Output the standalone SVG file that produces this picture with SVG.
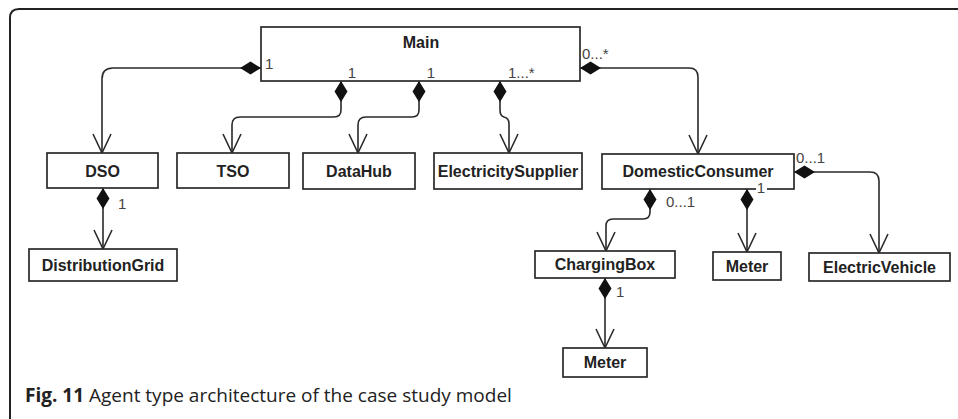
<svg xmlns="http://www.w3.org/2000/svg" width="958" height="419" viewBox="0 0 958 419">
<defs>
<marker id="dia" markerUnits="userSpaceOnUse" markerWidth="24" markerHeight="14" refX="0" refY="6.5" orient="auto" viewBox="0 0 24 14" overflow="visible">
<path d="M0,6.5 L10.5,0 L21,6.5 L10.5,13 Z" fill="#111"/>
</marker>
<marker id="arr" markerUnits="userSpaceOnUse" markerWidth="22" markerHeight="22" refX="0" refY="0" orient="auto" viewBox="-21 -11 22 22" overflow="visible">
<path d="M-19,-9 L0,0 L-19,9" fill="none" stroke="#2a2a2a" stroke-width="1.6"/>
</marker>
</defs>
<style>
.box{fill:#fff;stroke:#2a2a2a;stroke-width:1.7}
.name{font-family:"Liberation Sans",Arial,sans-serif;font-weight:bold;font-size:16px;fill:#222;text-anchor:middle}
.lab{font-family:"Liberation Sans",Arial,sans-serif;font-size:15px;fill:#444}
.con{fill:none;stroke:#2a2a2a;stroke-width:1.6;marker-start:url(#dia);marker-end:url(#arr)}
.cap{font-family:"Open Sans","Noto Sans",sans-serif;font-size:19px;fill:#222}
</style>
<rect width="958" height="419" fill="#fff"/>
<path d="M10,419 V18 Q10,9 19,9 H958" fill="none" stroke="#222" stroke-width="2"/>

<g id="connectors">
<path class="con" d="M261,68 H113 Q102,68 102,79 V153"/>
<path class="con" d="M341,81 V110 Q341,117 334,117 H240 Q232,117 232,125 V153"/>
<path class="con" d="M419,81 V110 Q419,117 412,117 H366 Q358,117 358,125 V153"/>
<path class="con" d="M500,81 V110 Q500,116 504,117 Q509,118 509,124 V153"/>
<path class="con" d="M580,68 H689 Q698,68 698,77 V154"/>
<path class="con" d="M794,172 H870 Q879,172 879,181 V253"/>
<path class="con" d="M747,189 V252"/>
<path class="con" d="M650,189 V212 Q650,219 643,219 H613 Q606,219 606,226 V251"/>
<path class="con" d="M605,278 V348"/>
<path class="con" d="M103,188 V249"/>
</g>

<g id="main">
<rect class="box" x="261" y="27" width="319" height="54"/>
<text class="name" x="421" y="48">Main</text>
<text class="lab" x="265" y="69">1</text>
<text class="lab" x="352" y="78" text-anchor="middle">1</text>
<text class="lab" x="431" y="78" text-anchor="middle">1</text>
<text class="lab" x="508" y="78">1...*</text>
<text class="lab" x="582" y="59">0...*</text>
</g>

<g id="dso">
<rect class="box" x="47" y="153" width="111" height="35"/>
<text class="name" x="102.5" y="176.5">DSO</text>
<text class="lab" x="118" y="209">1</text>
</g>

<g id="tso">
<rect class="box" x="177" y="153" width="112" height="35"/>
<text class="name" x="233" y="176.5">TSO</text>
</g>

<g id="datahub">
<rect class="box" x="303" y="153" width="112" height="36"/>
<text class="name" x="359" y="177">DataHub</text>
</g>

<g id="electricitysupplier">
<rect class="box" x="434" y="153" width="148" height="36"/>
<text class="name" x="508" y="177">ElectricitySupplier</text>
</g>

<g id="domesticconsumer">
<rect class="box" x="602" y="154" width="192" height="35"/>
<text class="name" x="698" y="176.5">DomesticConsumer</text>
<rect x="756" y="184" width="11" height="8" fill="#fff"/>
<text class="lab" x="761" y="193" text-anchor="middle">1</text>
<text class="lab" x="796" y="163">0...1</text>
<text class="lab" x="666" y="207">0...1</text>
</g>

<g id="distributiongrid">
<rect class="box" x="29" y="249" width="148" height="32"/>
<text class="name" x="103" y="271">DistributionGrid</text>
</g>

<g id="chargingbox">
<rect class="box" x="535" y="251" width="140" height="27"/>
<text class="name" x="605" y="270">ChargingBox</text>
<text class="lab" x="616" y="297">1</text>
</g>

<g id="meter1">
<rect class="box" x="713" y="252" width="68" height="28"/>
<text class="name" x="747" y="271.5">Meter</text>
</g>

<g id="electricvehicle">
<rect class="box" x="809" y="253" width="141" height="28"/>
<text class="name" x="879.5" y="272.5">ElectricVehicle</text>
</g>

<g id="meter2">
<rect class="box" x="563" y="348" width="84" height="29"/>
<text class="name" x="605" y="368">Meter</text>
</g>

<text class="cap" x="25" y="402"><tspan font-weight="bold">Fig. 11</tspan> Agent type architecture of the case study model</text>
</svg>
